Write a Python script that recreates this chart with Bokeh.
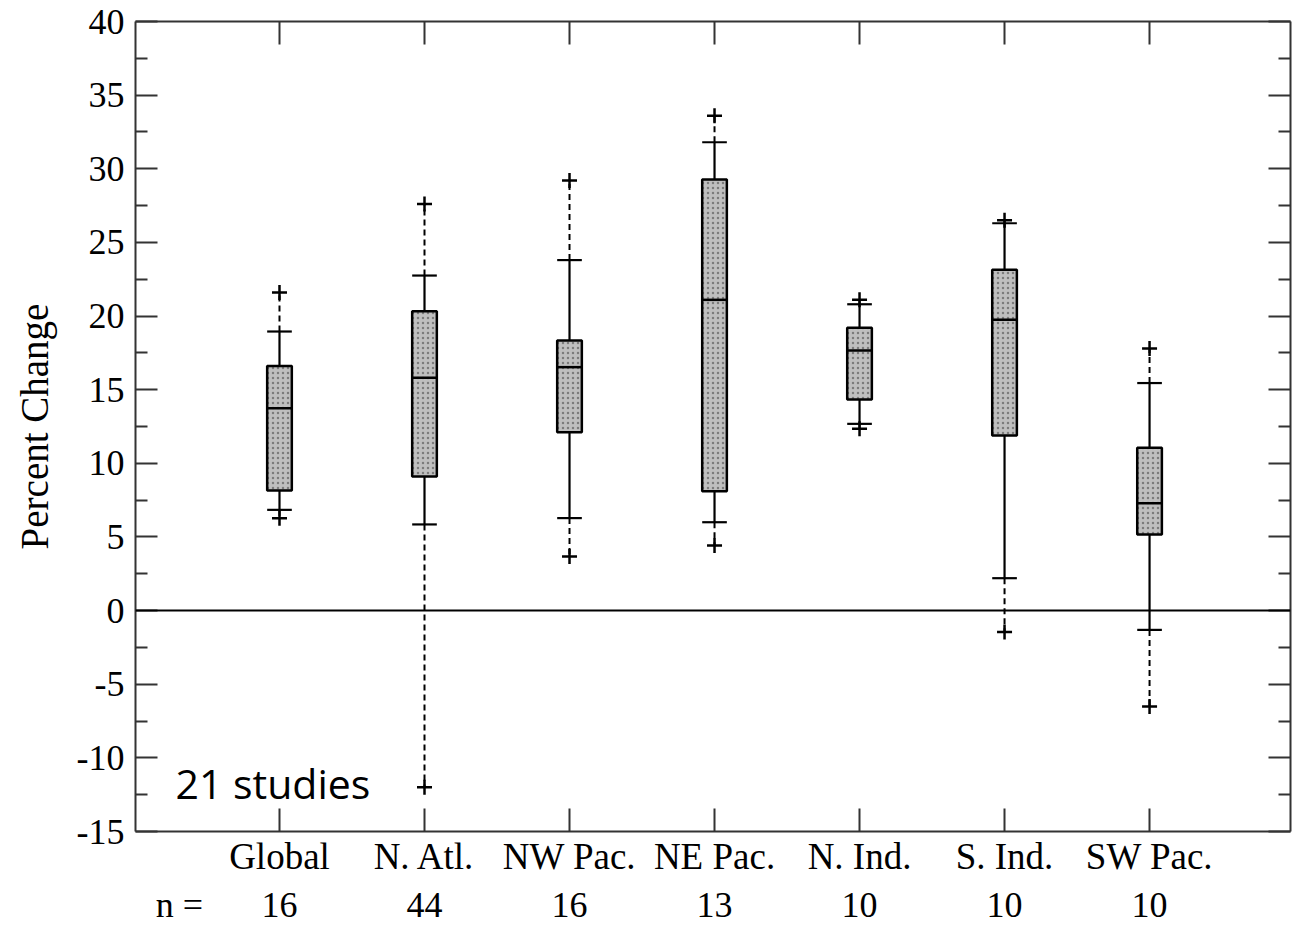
from bokeh.plotting import figure
from bokeh.models import (Range1d, LinearAxis, FixedTicker, Span, Label, ColumnDataSource)
from bokeh.embed import file_html
from bokeh.resources import INLINE

# ---- data ----
regions = ["Global", "N. Atl.", "NW Pac.", "NE Pac.", "N. Ind.", "S. Ind.", "SW Pac."]
n_studies = [16, 44, 16, 13, 10, 10, 10]
upper_extreme = [21.6, 27.6, 29.2, 33.6, 21.1, 26.5, 17.8]
upper_whisker = [18.95, 22.75, 23.8, 31.8, 20.8, 26.3, 15.45]
q3 = [16.6, 20.33, 18.34, 29.27, 19.2, 23.14, 11.05]
median = [13.74, 15.81, 16.53, 21.1, 17.66, 19.75, 7.29]
q1 = [8.16, 9.1, 12.11, 8.11, 14.33, 11.89, 5.17]
lower_whisker = [6.84, 5.85, 6.28, 6.0, 12.68, 2.2, -1.31]
lower_extreme = [6.27, -12.0, 3.67, 4.42, 12.34, -1.46, -6.51]
y_ticks = [-15, -10, -5, 0, 5, 10, 15, 20, 25, 30, 35, 40]
y_tick_labels = ["-15", "-10", "-5", "0", "5", "10", "15", "20", "25", "30", "35", "40"]
n_label = "n ="
note = "21 studies"

pos = list(range(1, len(regions) + 1))
bw = 0.17
y_minor = [(a + b) / 2 for a, b in zip(y_ticks[:-1], y_ticks[1:])]

src = ColumnDataSource(dict(
    x=pos, x0=[x - bw / 2 for x in pos], x1=[x + bw / 2 for x in pos],
    ue=upper_extreme, uw=upper_whisker, q3=q3, med=median, q1=q1,
    lw=lower_whisker, le=lower_extreme))

SERIF = "Liberation Serif"
AX = "#333333"

p = figure(frame_width=1155, frame_height=810,
           x_range=Range1d(0.007, 7.972), y_range=Range1d(-15, 40),
           output_backend="svg", toolbar_location=None,
           x_axis_location=None, y_axis_location=None,
           min_border_left=135, min_border_right=7,
           min_border_top=21, min_border_bottom=96)
p.grid.visible = False
p.outline_line_color = None
p.background_fill_color = "white"
p.border_fill_color = "white"


def style_common(ax):
    ax.axis_line_color = AX
    ax.axis_line_width = 2
    ax.major_tick_line_color = AX
    ax.major_tick_line_width = 2
    ax.minor_tick_line_color = AX
    ax.minor_tick_line_width = 2
    ax.major_tick_out = 0
    ax.minor_tick_out = 0
    ax.major_label_text_font = SERIF
    ax.major_label_text_color = "black"


def hide_labels(ax):
    ax.major_label_text_color = None
    ax.major_label_text_font_size = "1px"
    ax.major_label_standoff = 0


y_ticker = FixedTicker(ticks=y_ticks, minor_ticks=y_minor)

# left axis
yl = LinearAxis(ticker=y_ticker, axis_label="Percent Change",
                major_label_overrides={t: s for t, s in zip(y_ticks, y_tick_labels)})
style_common(yl)
yl.major_tick_in = 22
yl.minor_tick_in = 12
yl.major_label_standoff = 11
yl.major_label_text_font_size = "36px"
yl.axis_label_text_font = SERIF
yl.axis_label_text_font_size = "39px"
yl.axis_label_text_font_style = "normal"
yl.axis_label_text_color = "black"
yl.axis_label_standoff = 18
p.add_layout(yl, "left")

# right axis
yr = LinearAxis(ticker=y_ticker)
style_common(yr)
yr.major_tick_in = 22
yr.minor_tick_in = 12
hide_labels(yr)
p.add_layout(yr, "right")

# top axis
xt = LinearAxis(ticker=FixedTicker(ticks=pos))
style_common(xt)
xt.major_tick_in = 23
xt.minor_tick_line_color = None
hide_labels(xt)
p.add_layout(xt, "above")

# bottom axis with region names
xb = LinearAxis(ticker=FixedTicker(ticks=pos),
                major_label_overrides={x: r for x, r in zip(pos, regions)})
style_common(xb)
xb.major_tick_in = 23
xb.minor_tick_line_color = None
xb.major_label_text_font_size = "37px"
xb.major_label_standoff = 4
p.add_layout(xb, "below")

# second bottom row with study counts
n_pos = 0.31
ov = {n_pos: n_label}
ov.update({x: str(n) for x, n in zip(pos, n_studies)})
xn = LinearAxis(ticker=FixedTicker(ticks=[n_pos] + pos), major_label_overrides=ov)
style_common(xn)
xn.axis_line_color = None
xn.major_tick_line_color = None
xn.minor_tick_line_color = None
xn.major_label_text_font_size = "36px"
xn.major_label_standoff = 5
p.add_layout(xn, "below")

# zero line
p.add_layout(Span(location=0, dimension="width", line_color="black", line_width=2))

# dashed parts of whiskers
p.segment(x0="x", y0="uw", x1="x", y1="ue", source=src, line_color="black",
          line_width=2, line_dash="6 4")
p.segment(x0="x", y0="lw", x1="x", y1="le", source=src, line_color="black",
          line_width=2, line_dash="6 4")
# solid parts
p.segment(x0="x", y0="q3", x1="x", y1="uw", source=src, line_color="black", line_width=2.2)
p.segment(x0="x", y0="q1", x1="x", y1="lw", source=src, line_color="black", line_width=2.2)
# boxes
p.vbar(x="x", width=bw, top="q3", bottom="q1", source=src,
       fill_color="#bfbfbf", line_color="black", line_width=2.5,
       hatch_pattern="dot", hatch_color="#6a6a6a", hatch_scale=5, hatch_weight=1.5,
       hatch_alpha=0.8)
# median
p.segment(x0="x0", y0="med", x1="x1", y1="med", source=src, line_color="black", line_width=2.5)
# caps
p.segment(x0="x0", y0="uw", x1="x1", y1="uw", source=src, line_color="black", line_width=2.2)
p.segment(x0="x0", y0="lw", x1="x1", y1="lw", source=src, line_color="black", line_width=2.2)
# extremes
p.scatter(x="x", y="ue", source=src, marker="cross", size=15, line_color="black", line_width=2.5)
p.scatter(x="x", y="le", source=src, marker="cross", size=15, line_color="black", line_width=2.5)

p.add_layout(Label(x=0.283, y=-11.74, text=note, text_font="Open Sans",
                   text_font_size="41px", text_color="black",
                   text_baseline="alphabetic", text_align="left"))

open("out.html", "w").write(file_html(p, INLINE))
